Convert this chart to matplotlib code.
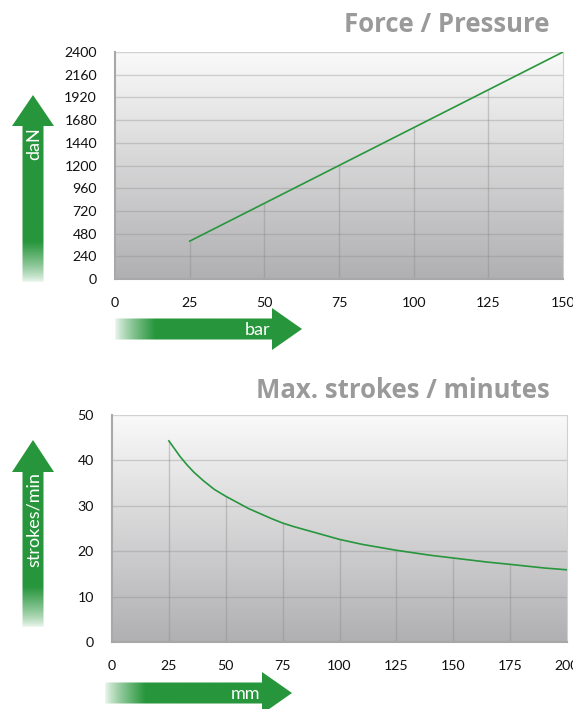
import numpy as np
import matplotlib
matplotlib.use("Agg")
import matplotlib.pyplot as plt
from matplotlib.patches import Polygon

plt.rcParams['font.family'] = ['Lato', 'DejaVu Sans']

# --- data -------------------------------------------------------------
pressure_bar = [25, 50, 75, 100, 125, 150]
force_dan = [400, 800, 1200, 1600, 2000, 2400]
force_ticks = [0, 240, 480, 720, 960, 1200, 1440, 1680, 1920, 2160, 2400]
pressure_ticks = [0, 25, 50, 75, 100, 125, 150]

stroke_mm = [25, 27, 30, 33, 36, 40, 45, 50, 60, 70, 75, 80, 90, 100,
             110, 125, 140, 150, 165, 175, 190, 200]
strokes_min = [44.3, 42.9, 40.8, 39.0, 37.4, 35.6, 33.6, 32.1, 29.4, 27.2,
               26.2, 25.4, 24.0, 22.6, 21.5, 20.2, 19.1, 18.5, 17.6, 17.1,
               16.3, 15.9]
strokes_ticks = [0, 10, 20, 30, 40, 50]
mm_ticks = [0, 25, 50, 75, 100, 125, 150, 175, 200]

GREEN = '#27963c'
W, H = 573, 709

fig = plt.figure(figsize=(W / 100, H / 100), dpi=100)

# overlay axes in pixel coordinates for arrows and titles
ov = fig.add_axes([0, 0, 1, 1], zorder=5)
ov.set_xlim(0, W)
ov.set_ylim(H, 0)
ov.axis('off')
ov.patch.set_alpha(0)


def px_axes(left, top, right, bottom):
    return fig.add_axes([left / W, 1 - bottom / H, (right - left) / W, (bottom - top) / H])


def gradient_bg(ax):
    grad = np.linspace(0, 1, 256).reshape(-1, 1)
    top = np.array([0.98, 0.98, 0.98])
    bot = np.array([0.69, 0.69, 0.70])
    img = top + (bot - top) * grad[..., None]
    ax.imshow(img, extent=[0, 1, 0, 1], transform=ax.transAxes,
              aspect='auto', zorder=0, origin='upper')


def style_chart(ax, xs, ys, xticks, yticks):
    gradient_bg(ax)
    ax.set_xlim(xticks[0], xticks[-1])
    ax.set_ylim(yticks[0], yticks[-1])
    for y in yticks[1:]:
        ax.axhline(y, color='#8a8a8a', alpha=0.35, lw=1.0, zorder=1)
    # drop lines from the axis up to the curve
    for x in xticks[1:-1]:
        if x >= xs[0]:
            ax.vlines(x, 0, np.interp(x, xs, ys), color='#8a8a8a',
                      alpha=0.4, lw=1.0, zorder=1)
    ax.plot(xs, ys, color=GREEN, lw=1.2, zorder=3)
    ax.set_xticks(xticks)
    ax.set_yticks(yticks)
    ax.tick_params(length=0, labelsize=10.2, colors='#111111')
    ax.tick_params(axis='x', pad=13)
    ax.tick_params(axis='y', pad=13)
    ax.spines['top'].set_visible(False)
    ax.spines['left'].set_color('#a8a8a8')
    ax.spines['bottom'].set_color('#a8a8a8')
    ax.spines['right'].set_color('#d0d0d0')
    ax.spines['left'].set_linewidth(1.5)
    ax.spines['bottom'].set_linewidth(1.5)


def arrow(poly, vertical, fade_from, fade_to):
    patch = Polygon(poly, closed=True, facecolor='none', edgecolor='none')
    ov.add_patch(patch)
    n = 256
    rgba = np.zeros((n, n, 4))
    rgba[..., 0] = 0x27 / 255
    rgba[..., 1] = 0x96 / 255
    rgba[..., 2] = 0x3c / 255
    xs = np.array([p[0] for p in poly])
    ys = np.array([p[1] for p in poly])
    x0, x1, y0, y1 = xs.min(), xs.max(), ys.min(), ys.max()
    if vertical:
        coord = np.linspace(y0, y1, n)[:, None] * np.ones((1, n))
    else:
        coord = np.ones((n, 1)) * np.linspace(x0, x1, n)[None, :]
    a = np.clip((coord - fade_from) / (fade_to - fade_from), 0, 1)
    rgba[..., 3] = 0.08 + 0.92 * a ** 0.8
    im = ov.imshow(rgba, extent=[x0, x1, y1, y0], aspect='auto', zorder=2,
                   origin='upper')
    im.set_clip_path(patch)


def v_arrow(xc, tip, base, bottom, label, ly):
    poly = [(xc, tip), (xc + 21, base), (xc + 10.5, base), (xc + 10.5, bottom),
            (xc - 10.5, bottom), (xc - 10.5, base), (xc - 21, base)]
    arrow(poly, True, bottom, bottom - 40)
    ov.text(xc + 1, ly, label, rotation=90, color='white', fontsize=13,
            ha='center', va='top', zorder=4)


def h_arrow(left, right, yc, label, lx):
    poly = [(left, yc - 10.5), (right - 30, yc - 10.5), (right - 30, yc - 21),
            (right, yc), (right - 30, yc + 21), (right - 30, yc + 10.5),
            (left, yc + 10.5)]
    arrow(poly, False, left, left + 40)
    ov.text(lx, yc + 1, label, color='white', fontsize=13,
            ha='right', va='center', zorder=4)


# --- top chart: force / pressure ----------------------------------------
ax1 = px_axes(115, 52, 563, 279)
style_chart(ax1, pressure_bar, force_dan, pressure_ticks, force_ticks)
ov.text(550, 25, 'Force / Pressure', color='#9a9a9a', fontsize=18.5,
        fontweight='bold', family=['Open Sans', 'DejaVu Sans'],
        ha='right', va='center')
v_arrow(33, 95, 126, 282, 'daN', 127)
h_arrow(115, 302, 329, 'bar', 270)

# --- bottom chart: strokes / minute ------------------------------------
ax2 = px_axes(112, 415, 567, 642)
style_chart(ax2, stroke_mm, strokes_min, mm_ticks, strokes_ticks)
ov.text(550, 390, 'Max. strokes / minutes', color='#9a9a9a', fontsize=18.5,
        fontweight='bold', family=['Open Sans', 'DejaVu Sans'],
        ha='right', va='center')
v_arrow(33, 440, 472, 627, 'strokes/min', 472)
h_arrow(105, 292, 693, 'mm', 260)

fig.savefig('out.png', dpi=100)
